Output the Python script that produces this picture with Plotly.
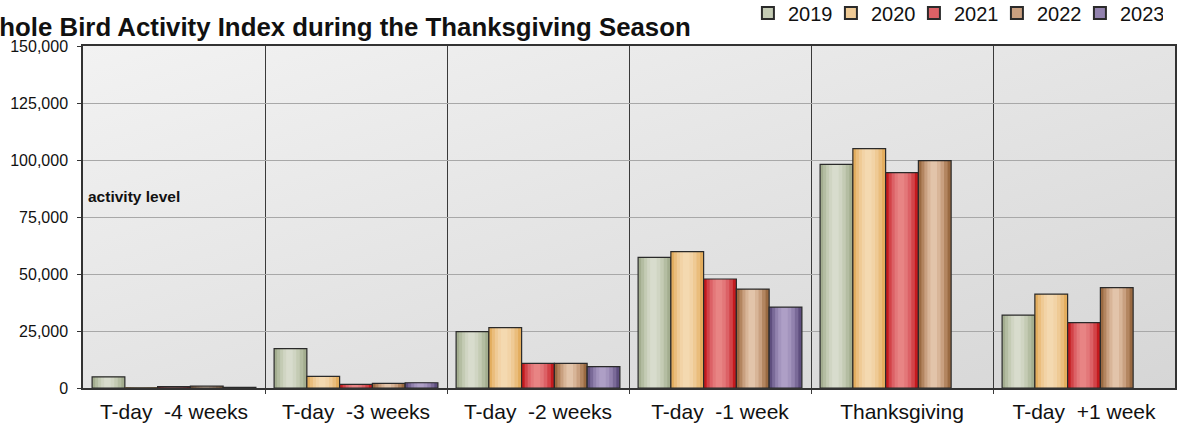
import base64
import plotly.graph_objects as go

categories = ["T-day  -4 weeks", "T-day  -3 weeks", "T-day  -2 weeks",
              "T-day  -1 week", "Thanksgiving", "T-day  +1 week"]
years = ["2019", "2020", "2021", "2022", "2023"]
v2019 = [4900, 17300, 24700, 57300, 98100, 32000]
v2020 = [100, 5100, 26500, 59800, 105000, 41200]
v2021 = [600, 1600, 10800, 47800, 94500, 28700]
v2022 = [800, 2000, 10800, 43400, 99700, 44000]
v2023 = [300, 2300, 9400, 35500, None, None]
series = [v2019, v2020, v2021, v2022, v2023]
y_ticks = [0, 25000, 50000, 75000, 100000, 125000, 150000]

# gradient shades (edge -> centre) for each series
shades = [
    ["#a3ad8f", "#b4bda2", "#c4cbb4", "#d0d5c3", "#d8dccd"],
    ["#e3ad5e", "#eabd7c", "#efca95", "#f2d3a6", "#f4d9b0"],
    ["#c41a1e", "#d24348", "#dc6166", "#e37779", "#e88484"],
    ["#9a6a42", "#b38560", "#c9a080", "#d8b598", "#e2c4aa"],
    ["#5e4e7e", "#7a6a98", "#9282ae", "#a394bd", "#ae9fc6"],
]
legend_cols = ["#c4cbb4", "#efca95", "#dc6166", "#c9a080", "#9282ae"]

xs = list(range(len(categories)))
group_w = 0.9
bw = group_w / len(years)
fracs = [1.0, 0.8, 0.6, 0.4, 0.2]

fig = go.Figure()
for i, (yr, vals) in enumerate(zip(years, series)):
    centre = -group_w / 2 + bw * (i + 0.5)
    for k, f in enumerate(fracs):
        w = bw * f
        shift = -0.04 * bw * k / len(fracs)
        fig.add_trace(go.Bar(
            x=xs, y=vals, width=w, offset=centre - w / 2 + shift,
            marker=dict(color=shades[i][k], line=dict(width=0)),
            showlegend=False, hoverinfo="skip"))
    fig.add_trace(go.Bar(
        x=xs, y=vals, width=bw, offset=centre - bw / 2, name=yr,
        marker=dict(color="rgba(0,0,0,0)", line=dict(color="#2a2a2a", width=1.2)),
        showlegend=False))
    fig.add_trace(go.Bar(
        x=[None], y=[None], name=yr,
        marker=dict(color=legend_cols[i], line=dict(color="#2a2a2a", width=1))))

svg = ('<svg xmlns="http://www.w3.org/2000/svg" width="100" height="100" '
       'viewBox="0 0 100 100" preserveAspectRatio="none"><defs>'
       '<linearGradient id="g" x1="0" y1="0" x2="1" y2="1">'
       '<stop offset="0" stop-color="#f2f2f2"/><stop offset="1" stop-color="#d6d6d6"/>'
       '</linearGradient></defs><rect width="100" height="100" fill="url(#g)"/></svg>')
src = "data:image/svg+xml;base64," + base64.b64encode(svg.encode()).decode()

fig.update_layout(
    width=1182, height=425,
    margin=dict(l=83, r=7, t=46, b=37, autoexpand=False),
    barmode="overlay",
    paper_bgcolor="white",
    plot_bgcolor="rgba(0,0,0,0)",
    font=dict(family="Liberation Sans, Arial, sans-serif", color="#111111"),
    legend=dict(orientation="h", x=0.6089, xanchor="left", y=1.0965, yref="paper",
                yanchor="middle", font=dict(size=20), itemwidth=30, entrywidth=38,
                bgcolor="rgba(0,0,0,0)", traceorder="normal",
                tracegroupgap=0, itemsizing="constant"),
    images=[dict(source=src, xref="x domain", yref="y domain", x=0, y=1,
                 sizex=1, sizey=1, sizing="stretch", layer="below", xanchor="left",
                 yanchor="top")],
    showlegend=True,
    annotations=[
        dict(text="<b>Whole Bird Activity Index during the Thanksgiving Season</b>",
             xref="paper", yref="paper", x=0.5586, y=1.0557, xanchor="right",
             yanchor="middle", showarrow=False, font=dict(size=25.8, color="#111111")),
        dict(text="<b>activity level</b>", xref="paper", yref="paper",
             x=0.003, y=0.561, xanchor="left", yanchor="middle",
             showarrow=False, font=dict(size=15.5, color="#111111")),
    ],
)
fig.update_xaxes(
    range=[-0.5, len(categories) - 0.5],
    tickmode="array", tickvals=xs, ticktext=categories,
    tickfont=dict(size=21), ticks="", showgrid=False, ticklabelstandoff=4,
    showline=True, linecolor="#333333", linewidth=1.5, mirror=True,
    minor=dict(tickmode="array", tickvals=[x + 0.5 for x in xs[:-1]],
               showgrid=True, gridcolor="#3a3a3a", gridwidth=1,
               ticks="outside", ticklen=4, tickcolor="#3a3a3a"),
    zeroline=False, automargin=False,
)
fig.update_yaxes(
    range=[0, 150000], tickmode="array", tickvals=y_ticks,
    ticktext=[f"{v:,}" for v in y_ticks], tickfont=dict(size=16),
    showgrid=True, gridcolor="#a8a8a8", gridwidth=1, ticklabelstandoff=6,
    ticks="outside", ticklen=4, tickcolor="#333333",
    showline=True, linecolor="#333333", linewidth=1.5, mirror=True,
    zeroline=False, automargin=False,
)

fig.write_html("out.html", config={"displayModeBar": False},
               post_script="document.body.style.margin='0';"
                           "document.body.style.overflow='hidden';")
